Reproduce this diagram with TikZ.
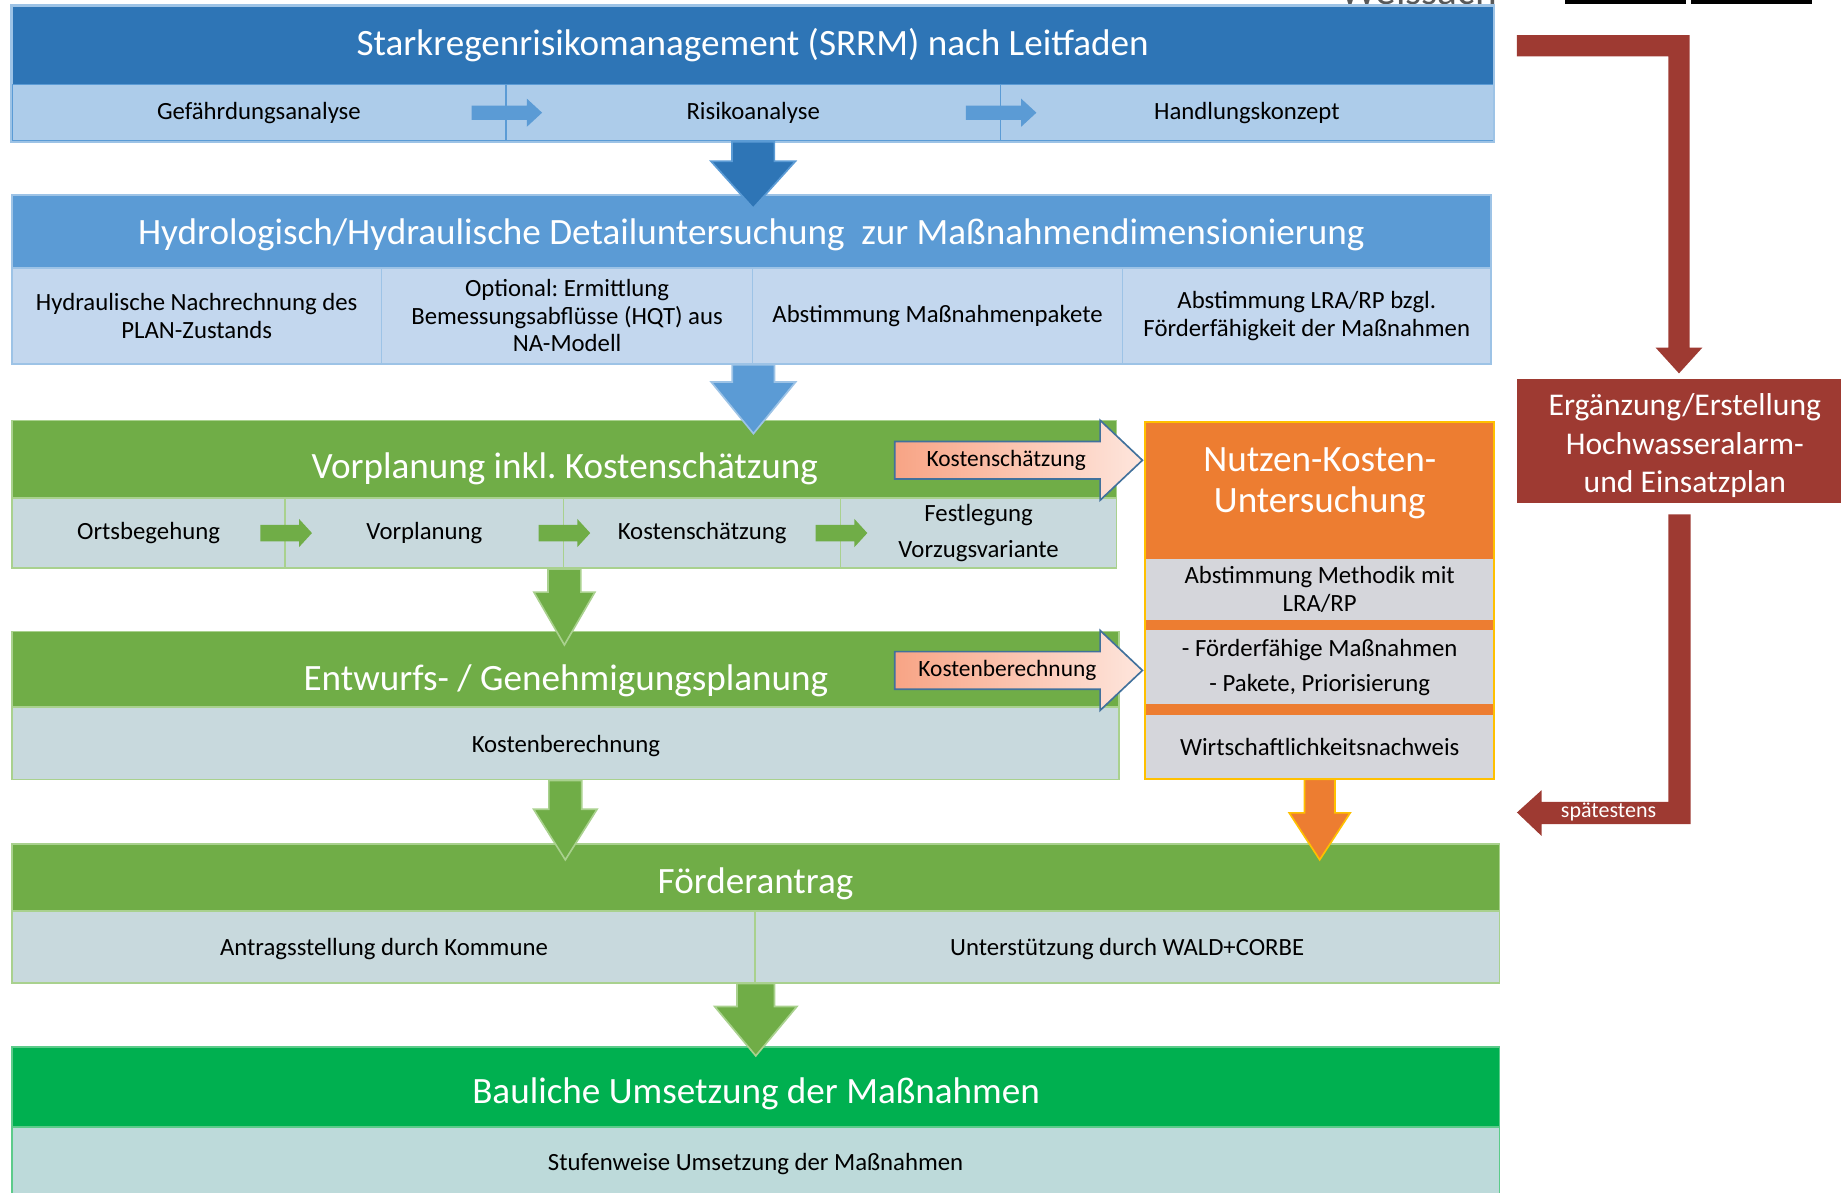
\documentclass[tikz,border=0pt]{standalone}
\usepackage{fontspec}
\setmainfont{Carlito}
\usetikzlibrary{calc}
\frenchspacing
\definecolor{SRDark}{HTML}{2E75B6}
\definecolor{SRMid}{HTML}{5B9BD5}
\definecolor{SREdge}{HTML}{9DC3E6}
\definecolor{SRLight}{HTML}{ADCCEA}
\definecolor{HYLight}{HTML}{C3D7EE}
\definecolor{PLGreen}{HTML}{70AD47}
\definecolor{PLEdge}{HTML}{A9D18E}
\definecolor{PLGrey}{HTML}{C8D9DD}
\definecolor{BUGreen}{HTML}{00B050}
\definecolor{BUEdge}{HTML}{5CCB8A}
\definecolor{BULight}{HTML}{BDDADA}
\definecolor{NKOrange}{HTML}{ED7D31}
\definecolor{NKEdge}{HTML}{FFC000}
\definecolor{NKGrey}{HTML}{D5D6DB}
\definecolor{AlarmRed}{HTML}{9E3A32}
\definecolor{TagLeft}{HTML}{F8A485}
\definecolor{TagRight}{HTML}{FEE6DD}
\definecolor{TagEdge}{HTML}{41719C}
\definecolor{LogoGrey}{HTML}{595959}

\newlength\pxu
\setlength\pxu{0.03cm}
\newcommand\hdfont{\fontsize{27}{30}\selectfont}
\newcommand\cellfont{\fontsize{18}{20}\selectfont}
\newcommand\tagfont{\fontsize{17}{19}\selectfont}
\newcommand\alarmfont{\fontsize{23}{28}\selectfont}

\tikzset{
  sz/.style 2 args={minimum width=#1*\pxu, minimum height=#2*\pxu},
  box/.style={inner sep=0pt, line width=1.2pt, align=center},
  hdtext/.style={inner sep=0pt, align=center, text=white, font=\hdfont},
  srhead/.style={box, fill=SRDark, draw=SREdge},
  srcell/.style={box, fill=SRLight, draw=SRMid, font=\cellfont},
  hyhead/.style={box, fill=SRMid, draw=SREdge},
  hycell/.style={box, fill=HYLight, draw=SREdge, font=\cellfont},
  plhead/.style={box, fill=PLGreen, draw=PLEdge},
  plcell/.style={box, fill=PLGrey, draw=PLEdge, font=\cellfont},
  buhead/.style={box, fill=BUGreen, draw=BUEdge},
  bucell/.style={box, fill=BULight, draw=BUEdge, font=\cellfont},
  nkcell/.style={box, fill=NKGrey, font=\cellfont},
  tagarrow/.style={left color=TagLeft, right color=TagRight, draw=TagEdge, line width=1.2pt},
  tag/.style={inner sep=0pt, font=\tagfont},
  srarrow/.style={fill=SRMid},
  plarrow/.style={fill=PLGreen},
}

% fat down arrow: style, from, tip, shaft half, head half, head length (px)
\newcommand{\fatdown}[6]{%
  \path[#1] let \p1=(#2), \p2=(#3) in
    (\x1-#4*\pxu,\y1) -- (\x1+#4*\pxu,\y1) -- (\x1+#4*\pxu,\y2+#6*\pxu)
    -- (\x1+#5*\pxu,\y2+#6*\pxu) -- (\x1,\y2) -- (\x1-#5*\pxu,\y2+#6*\pxu)
    -- (\x1-#4*\pxu,\y2+#6*\pxu) -- cycle;}
% small right arrow across a cell border: style, centre, half length, shaft half, head half, head length (px)
\newcommand{\fatright}[6]{%
  \path[#1] let \p1=(#2) in
    (\x1-#3*\pxu,\y1+#4*\pxu) -- (\x1+#3*\pxu-#6*\pxu,\y1+#4*\pxu)
    -- (\x1+#3*\pxu-#6*\pxu,\y1+#5*\pxu) -- (\x1+#3*\pxu,\y1)
    -- (\x1+#3*\pxu-#6*\pxu,\y1-#5*\pxu) -- (\x1+#3*\pxu-#6*\pxu,\y1-#4*\pxu)
    -- (\x1-#3*\pxu,\y1-#4*\pxu) -- cycle;}
% cost arrow into the Nutzen-Kosten box
\newcommand{\costarrow}[1]{%
  \draw[tagarrow] (762,#1-16) -- (937,#1-16) -- (937,#1-34) -- (973,#1)
    -- (937,#1+34) -- (937,#1+16) -- (762,#1+16) -- cycle;}

\begin{document}
\begin{tikzpicture}[x=0.03cm,y=-0.03cm]
\path[use as bounding box] (0,0) rectangle (1568,1016);

% cut-off header of the page
\node[anchor=base east, inner sep=0pt, text=LogoGrey, font=\fontsize{30}{32}\selectfont] (logo) at (1275,4) {Weissach};
\fill[black] (1333,0) rectangle (1436,3);
\fill[black] (1440,0) rectangle (1543,3);

% SRRM
\node[srhead, sz={1262}{67}] (srrm) at (641,38.5) {};
\node[hdtext] (srrmT) at (641,38.5) {Starkregenrisikomanagement (SRRM) nach Leitfaden};
\node[srcell, sz={421}{48}] (srrmA) at (220.5,96) {Gefährdungsanalyse};
\node[srcell, sz={421}{48}] (srrmB) at (641.5,96) {Risikoanalyse};
\node[srcell, sz={420}{48}] (srrmC) at (1062,96) {Handlungskonzept};
\draw[SREdge, line width=1.2pt] (srrm.north west) rectangle (srrmC.south east);
\fatright{srarrow}{srrmA.east}{30}{6}{12}{13}
\fatright{srarrow}{srrmB.east}{30}{6}{12}{13}

% Hydrologie
\node[hyhead, sz={1260}{62}] (hydro) at (640,197) {};
\node[hdtext] (hydroT) at (640,200) {Hydrologisch/Hydraulische Detailuntersuchung\ \ zur Maßnahmendimensionierung};
\node[hycell, sz={315}{82}] (hyA) at (167.5,269) {Hydraulische Nachrechnung des\\PLAN-Zustands};
\node[hycell, sz={316}{82}] (hyB) at (483,269) {Optional: Ermittlung\\Bemessungsabflüsse (HQT) aus\\NA-Modell};
\node[hycell, sz={315}{82}] (hyC) at (798.5,269) {Abstimmung Maßnahmenpakete};
\node[hycell, sz={314}{82}] (hyD) at (1113,269) {Abstimmung LRA/RP bzgl.\\Förderfähigkeit der Maßnahmen};

% Vorplanung
\node[plhead, sz={941}{66}] (vor) at (480.5,391) {};
\node[hdtext] (vorT) at (481,399) {Vorplanung inkl. Kostenschätzung};
\node[plcell, sz={233}{60}] (vorA) at (126.5,454) {Ortsbegehung};
\node[plcell, sz={237}{60}] (vorB) at (361.5,454) {Vorplanung};
\node[plcell, sz={236}{60}] (vorC) at (598,454) {Kostenschätzung};
\node[plcell, sz={235}{60}, font=\fontsize{18}{26}\selectfont] (vorD) at (833.5,454) {Festlegung\\Vorzugsvariante};
\fatright{plarrow}{vorA.east}{22}{7}{12}{11}
\fatright{plarrow}{vorB.east}{22}{7}{12}{11}
\fatright{plarrow}{vorC.east}{22}{7}{12}{11}
\costarrow{392}
\node[tag] (tagA) at (857,392) {Kostenschätzung};

% Entwurf
\node[plhead, sz={943}{64}] (entw) at (481.5,570) {};
\node[hdtext] (entwT) at (482,580) {Entwurfs- / Genehmigungsplanung};
\node[plcell, sz={943}{62}] (entwK) at (481.5,633) {};
\node[inner sep=0pt, font=\cellfont] (entwKT) at (482,635) {Kostenberechnung};
\costarrow{571}
\node[tag] (tagB) at (858,571) {Kostenberechnung};

% Nutzen-Kosten-Untersuchung
\node[box, fill=NKOrange, sz={296}{303}] (nk) at (1124,511.5) {};
\node[hdtext] (nkhead) at (1124,411.5) {Nutzen-Kosten-\\Untersuchung};
\node[nkcell, sz={296}{52}] (nkA) at (1124,502) {Abstimmung Methodik mit\\LRA/RP};
\node[nkcell, sz={296}{63}, font=\fontsize{18}{26}\selectfont] (nkB) at (1124,568.5) {- Förderfähige Maßnahmen\\- Pakete, Priorisierung};
\node[nkcell, sz={296}{54}] (nkC) at (1124,636) {Wirtschaftlichkeitsnachweis};
\draw[NKEdge, line width=1.2pt] (nk.north west) rectangle (nk.south east);

% Förderantrag
\node[plhead, sz={1267}{57}] (foer) at (643.5,747.5) {};
\node[hdtext] (foerT) at (643.5,752.5) {Förderantrag};
\node[plcell, sz={633}{61}] (foerA) at (326.5,806.5) {};
\node[plcell, sz={634}{61}] (foerB) at (960,806.5) {};
\node[inner sep=0pt, font=\cellfont] (foerAT) at (327,808.5) {Antragsstellung durch Kommune};
\node[inner sep=0pt, font=\cellfont] (foerBT) at (960,808.5) {Unterstützung durch WALD+CORBE};

% Umsetzung
\node[buhead, sz={1267}{68}] (bau) at (643.5,926) {};
\node[hdtext] (bauT) at (644,932) {Bauliche Umsetzung der Maßnahmen};
\node[bucell, sz={1267}{62}] (bauK) at (643.5,991) {Stufenweise Umsetzung der Maßnahmen};

% down arrows
\fatdown{fill=SRDark, draw=SRMid, line width=1.2pt}{srrmB.south}{$(hydro.north)+(0,12)$}{18}{36}{40}
\fatdown{fill=SRMid, draw=SREdge, line width=1.2pt}{hyB.south east}{$(vor.north)+(0,12)$}{18}{36}{44}
\fatdown{fill=PLGreen, draw=PLEdge, line width=1.2pt}{vorB.south east}{$(entw.north)+(0,12)$}{14}{26}{45}
\fatdown{fill=PLGreen, draw=PLEdge, line width=1.2pt}{entwK.south}{$(foer.north)+(0,14)$}{14}{27}{43}
\fatdown{fill=NKOrange, draw=NKEdge, line width=1.2pt}{nkC.south}{$(foer.north)+(0,14)$}{13}{26}{40}
\fatdown{fill=PLGreen, draw=PLEdge, line width=1.2pt}{foerA.south east}{$(bau.north)+(0,8)$}{16}{35}{42}

% Alarm- und Einsatzplan
\node[box, fill=AlarmRed, sz={276}{105}] (alarm) at (1430,375.5) {};
\node[inner sep=0pt, align=center, text=white, font=\alarmfont] (alarmT) at (1435,379.5) {Ergänzung/Erstellung\\Hochwasseralarm-\\und Einsatzplan};
\fill[AlarmRed] (1292,30) -- (1439,30) -- (1439,296) -- (1450,296) -- (1430,318) -- (1410,296) -- (1421,296) -- (1421,48) -- (1292,48) -- cycle;
\fill[AlarmRed] (1421,438) -- (1440,438) -- (1440,702) -- (1313,702) -- (1313,712) -- (1292,692) -- (1313,673) -- (1313,683) -- (1421,683) -- cycle;
\node[inner sep=0pt, text=white, font=\fontsize{16}{18}\selectfont] (late) at (1370,692) {spätestens};
\end{tikzpicture}
\end{document}
